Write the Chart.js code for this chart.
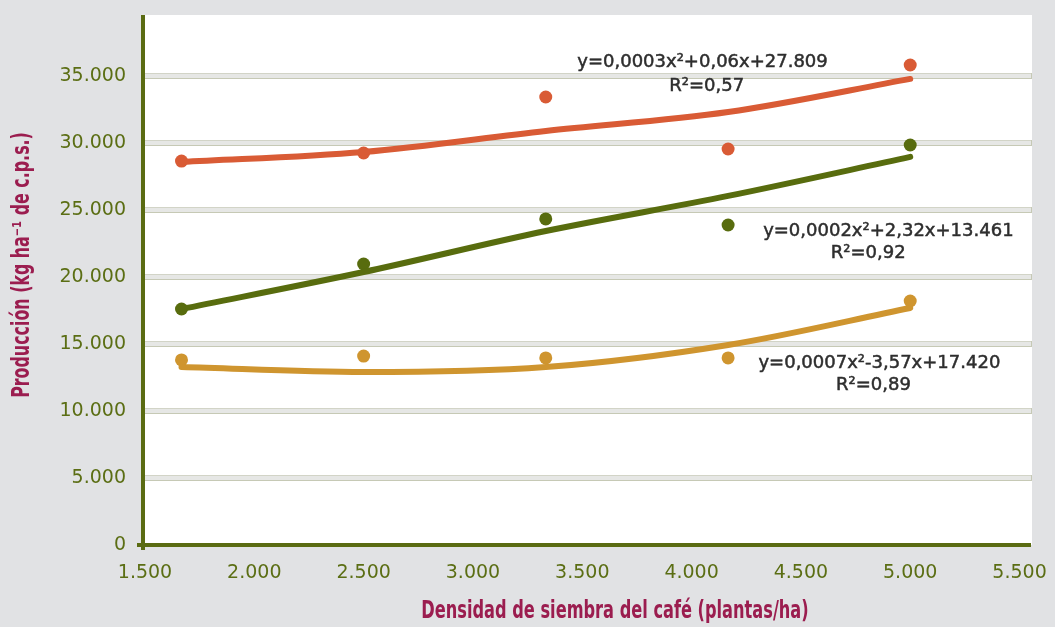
<!DOCTYPE html>
<html>
<head>
<meta charset="utf-8">
<script src="https://cdn.jsdelivr.net/npm/chart.js@4.4.1/dist/chart.umd.min.js"></script>
<style>
  html, body { margin: 0; padding: 0; background: #e1e2e4; }
  #wrap { width: 1055px; height: 627px; position: relative; }
</style>
</head>
<body>
<div id="wrap"><canvas id="chart" width="1055" height="627"></canvas></div>
<script>
// Planting densities (plants/ha)
const densities = [1667, 2500, 3333, 4167, 5000];

// Observed yields (kg/ha of c.p.s.)
const yieldOrange = [28650, 29250, 33430, 29550, 35820];
const yieldGreen  = [17610, 20970, 24330, 23880, 29850];
const yieldGold   = [13810, 14100, 13960, 13960, 18210];

// Quadratic trend curves read at each density
const trendOrange = [28580, 29330, 30900, 32310, 34780];
const trendGreen  = [17610, 20370, 23430, 26050, 28960];
const trendGold   = [13280, 12910, 13280, 14930, 17690];

// Tick labels (Spanish thousands separator)
const xTickValues = [1500, 2000, 2500, 3000, 3500, 4000, 4500, 5000, 5500];
const xTickLabels = ['1.500', '2.000', '2.500', '3.000', '3.500', '4.000', '4.500', '5.000', '5.500'];
const yTickValues = [0, 5000, 10000, 15000, 20000, 25000, 30000, 35000];
const yTickLabels = ['0', '5.000', '10.000', '15.000', '20.000', '25.000', '30.000', '35.000'];

// Trend equations
const eqOrange = ['y=0,0003x\u00B2+0,06x+27.809', 'R\u00B2=0,57'];
const eqGreen  = ['y=0,0002x\u00B2+2,32x+13.461', 'R\u00B2=0,92'];
const eqGold   = ['y=0,0007x\u00B2-3,57x+17.420', 'R\u00B2=0,89'];

const xTitle = 'Densidad de siembra del café (plantas/ha)';
const yTitle = 'Producción (kg ha\u207B\u00B9 de c.p.s.)';

const COLORS = { orange: '#d95b35', green: '#586c0e', gold: '#cf952f' };
const AXIS = '#5a6b12';
const TICK = '#5b6e14';
const TITLE = '#9b1d4f';

const pts = (ys) => densities.map((d, i) => ({ x: d, y: ys[i] }));

// where each equation block sits, in data units
const eqPlacement = [
  { lines: eqOrange, x: [4050, 4069], y: [36050, 34250] },
  { lines: eqGreen,  x: [4900, 4808], y: [23430, 21790] },
  { lines: eqGold,   x: [4859, 4832], y: [13580, 11940] }
];

const backdrop = {
  id: 'backdrop',
  beforeDraw(chart) {
    const { ctx, chartArea: a } = chart;
    ctx.save();
    ctx.fillStyle = '#e1e2e4';
    ctx.fillRect(0, 0, chart.width, chart.height);
    ctx.fillStyle = '#ffffff';
    ctx.fillRect(a.left, a.top, a.right - a.left, a.bottom - a.top);
    ctx.restore();
  },
  beforeDatasetsDraw(chart) {
    const { ctx, chartArea: a, scales } = chart;
    const ys = scales.y;
    ctx.save();
    // banded gridlines
    yTickValues.forEach(v => {
      if (v === 0) return;
      const y = Math.round(ys.getPixelForValue(v));
      ctx.fillStyle = '#e6e7e5';
      ctx.fillRect(a.left, y - 3, a.right - a.left, 6);
      ctx.fillStyle = '#d2d4c7';
      ctx.fillRect(a.left, y - 3, a.right - a.left, 1);
      ctx.fillStyle = '#c6c9b5';
      ctx.fillRect(a.left, y + 2, a.right - a.left, 1);
      ctx.fillRect(a.right - 1, y - 3, 1, 6);
    });
    // axis lines
    ctx.strokeStyle = AXIS;
    ctx.lineWidth = 4;
    ctx.lineCap = 'butt';
    ctx.beginPath();
    ctx.moveTo(a.left - 2, a.top);
    ctx.lineTo(a.left - 2, a.bottom + 5);
    ctx.stroke();
    ctx.beginPath();
    ctx.moveTo(a.left - 8, a.bottom);
    ctx.lineTo(a.right - 1, a.bottom);
    ctx.stroke();
    ctx.restore();
  },
  afterDatasetsDraw(chart) {
    const { ctx, scales } = chart;
    ctx.save();
    // equations
    ctx.fillStyle = '#2e2e2e';
    ctx.strokeStyle = '#2e2e2e';
    ctx.lineWidth = 0.5;
    ctx.textAlign = 'center';
    ctx.textBaseline = 'middle';
    ctx.font = '18px "DejaVu Sans"';
    eqPlacement.forEach(e => {
      e.lines.forEach((t, i) => {
        const px = scales.x.getPixelForValue(e.x[i]);
        const py = scales.y.getPixelForValue(e.y[i]);
        ctx.fillText(t, px, py);
        ctx.strokeText(t, px, py);
      });
    });
    // axis titles, condensed
    ctx.fillStyle = TITLE;
    ctx.font = 'bold 24px "Liberation Sans Narrow", "DejaVu Sans Condensed", sans-serif';
    ctx.save();
    ctx.translate(615, 612);
    ctx.scale(0.75, 1);
    ctx.fillText(xTitle, 0, 0);
    ctx.restore();
    ctx.save();
    ctx.translate(23, 265);
    ctx.rotate(-Math.PI / 2);
    ctx.scale(0.735, 1);
    ctx.fillText(yTitle, 0, 0);
    ctx.restore();
    ctx.restore();
  }
};

const scatterSet = (label, ys, color) => ({
  type: 'scatter', label, data: pts(ys), showLine: false,
  backgroundColor: color, borderColor: color, pointRadius: 6.5, pointHoverRadius: 6.5, borderWidth: 0, order: 2
});
const trendSet = (label, ys, color) => ({
  type: 'line', label, data: pts(ys), showLine: true, fill: false,
  borderColor: color, backgroundColor: color, borderWidth: 6, pointRadius: 0,
  borderCapStyle: 'round', tension: 0.4, cubicInterpolationMode: 'monotone', order: 1
});

new Chart(document.getElementById('chart'), {
  type: 'scatter',
  data: {
    datasets: [
      scatterSet('Naranja', yieldOrange, COLORS.orange),
      scatterSet('Verde', yieldGreen, COLORS.green),
      scatterSet('Dorado', yieldGold, COLORS.gold),
      trendSet('Tendencia naranja', trendOrange, COLORS.orange),
      trendSet('Tendencia verde', trendGreen, COLORS.green),
      trendSet('Tendencia dorada', trendGold, COLORS.gold)
    ]
  },
  options: {
    responsive: false,
    devicePixelRatio: 1,
    animation: false,
    layout: { padding: { left: 0, right: 23, top: 15, bottom: 0 } },
    plugins: { legend: { display: false }, tooltip: { enabled: false } },
    scales: {
      x: {
        type: 'linear', min: 1500, max: 5557,
        afterBuildTicks(s) { s.ticks = xTickValues.map(v => ({ value: v })); },
        afterFit(s) { s.height = 82; s.paddingLeft = 0; s.paddingRight = 0; },
        grid: { display: false, drawTicks: false },
        border: { display: false },
        ticks: {
          padding: 17,
          color: TICK,
          font: { family: 'DejaVu Sans', size: 19 },
          callback: (v) => xTickLabels[xTickValues.indexOf(v)]
        }
      },
      y: {
        type: 'linear', min: 0, max: 39550,
        afterBuildTicks(s) { s.ticks = yTickValues.map(v => ({ value: v })); },
        afterFit(s) { s.width = 145; s.paddingTop = 0; s.paddingBottom = 0; },
        grid: { display: false, drawTicks: false },
        border: { display: false },
        ticks: {
          padding: 19,
          color: TICK,
          font: { family: 'DejaVu Sans', size: 19 },
          callback: (v) => yTickLabels[yTickValues.indexOf(v)]
        }
      }
    }
  },
  plugins: [backdrop]
});
</script>
</body>
</html>
